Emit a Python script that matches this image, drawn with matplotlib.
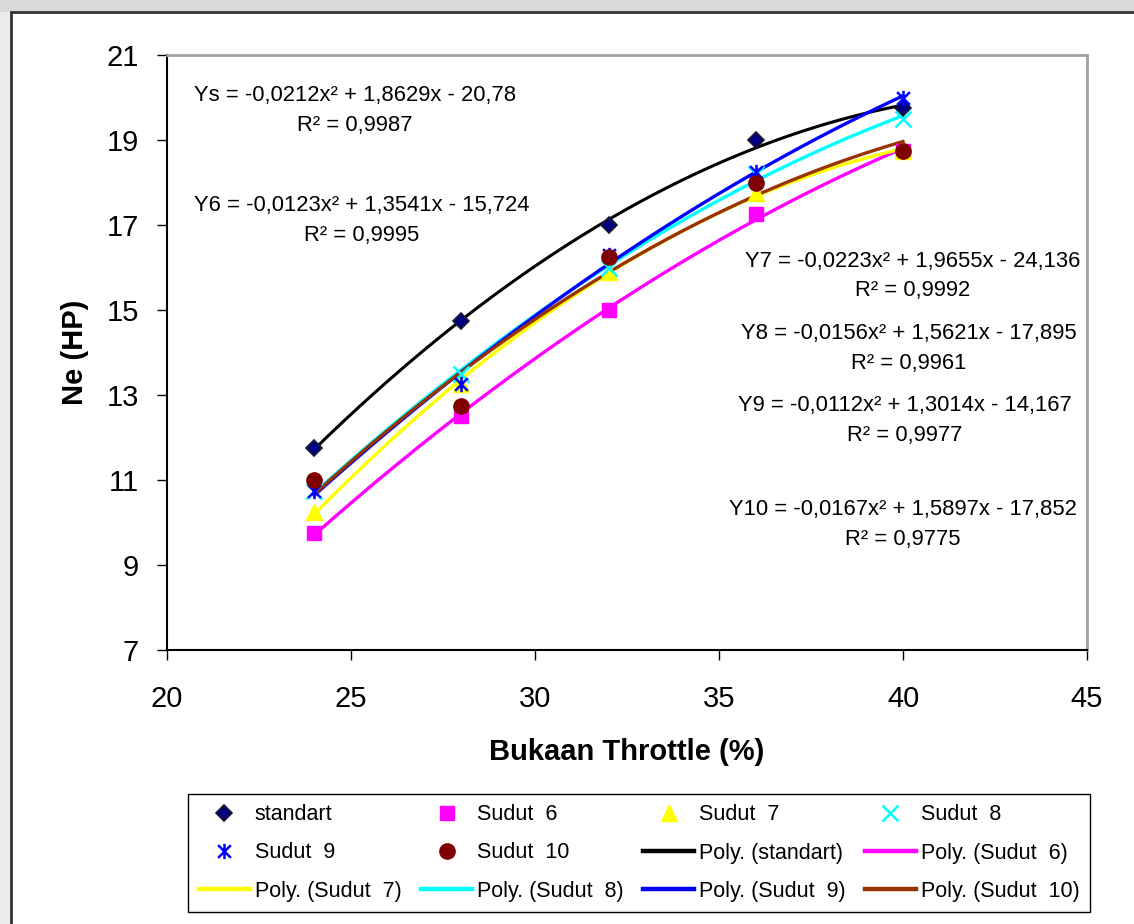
import numpy as np
import matplotlib
matplotlib.use("Agg")
import matplotlib.pyplot as plt
import matplotlib.patches as mpatches
from matplotlib.path import Path

plt.rcParams["font.family"] = ["Liberation Sans", "DejaVu Sans"]

# ── Data ────────────────────────────────────────────────────────────────────
throttle = [24, 28, 32, 36, 40]
standart = [11.75, 14.75, 17.0, 19.0, 19.75]
sudut6 = [9.75, 12.5, 15.0, 17.25, 18.75]
sudut7 = [10.25, 13.25, 15.9, 17.75, 18.75]
sudut8 = [10.75, 13.5, 16.0, 18.2, 19.5]
sudut9 = [10.75, 13.25, 16.3, 18.25, 20.0]
sudut10 = [11.0, 12.75, 16.25, 18.0, 18.75]

names = ["standart", "Sudut  6", "Sudut  7", "Sudut  8", "Sudut  9", "Sudut  10"]
equations = [
    "Ys = -0,0212x² + 1,8629x - 20,78\nR² = 0,9987",
    "Y6 = -0,0123x² + 1,3541x - 15,724\nR² = 0,9995",
    "Y7 = -0,0223x² + 1,9655x - 24,136\nR² = 0,9992",
    "Y8 = -0,0156x² + 1,5621x - 17,895\nR² = 0,9961",
    "Y9 = -0,0112x² + 1,3014x - 14,167\nR² = 0,9977",
    "Y10 = -0,0167x² + 1,5897x - 17,852\nR² = 0,9775",
]
# label centres in data units
eq_x = [25.1, 25.3, 40.25, 40.15, 40.05, 40.0]
eq_y = [19.7, 17.1, 15.8, 14.1, 12.4, 9.95]

# Excel style asterisk: X with vertical stroke
star = Path([(-1, -1), (1, 1), (-1, 1), (1, -1), (0, -1.2), (0, 1.2)],
            [Path.MOVETO, Path.LINETO, Path.MOVETO, Path.LINETO, Path.MOVETO, Path.LINETO])

series = [standart, sudut6, sudut7, sudut8, sudut9, sudut10]
line_colors = ["#000000", "#ff00ff", "#ffff00", "#00ffff", "#0000ff", "#993300"]
mk = [
    dict(marker="D", ms=8.5, mfc="#000080", mec="#1a1a2e", mew=1.2),
    dict(marker="s", ms=10, mfc="#ff00ff", mec="#ff00ff", mew=1),
    dict(marker="^", ms=11, mfc="#ffff00", mec="#ffff00", mew=1),
    dict(marker="x", ms=11, mfc="none", mec="#00ffff", mew=1.8),
    dict(marker=star, ms=11, mfc="none", mec="#0000ff", mew=1.8),
    dict(marker="o", ms=11, mfc="#800000", mec="#800000", mew=1),
]

fig = plt.figure(figsize=(11.34, 9.24), dpi=100)
fig.patch.set_facecolor("#ebebeb")
fig.patches.append(mpatches.Rectangle((0, 1 - 12 / 924), 1, 12 / 924, transform=fig.transFigure,
                                      facecolor="#d9d9d9", edgecolor="none", zorder=-20))
fig.patches.append(mpatches.Rectangle((11 / 1134, -0.01), 1.1, 1.01 - 12 / 924, transform=fig.transFigure,
                                      facecolor="white", edgecolor="#333333", linewidth=2, zorder=-10))

ax = fig.add_axes([167 / 1134, 1 - 650 / 924, 920 / 1134, 595 / 924])
ax.set_facecolor("none")
ax.set_xlim(20, 45)
ax.set_ylim(7, 21)
ax.set_xticks(range(20, 46, 5))
ax.set_yticks(range(7, 22, 2))

xs = np.linspace(24, 40, 200)
point_handles = []
line_handles = []
for i, ys in enumerate(series):
    coef = np.polyfit(throttle, ys, 2)
    lw = 2.2 if i == 0 else 2.4
    ln, = ax.plot(xs, np.polyval(coef, xs), color=line_colors[i], lw=lw, zorder=3 + i * 0.1)
    line_handles.append(ln)
for i, ys in enumerate(series):
    pt, = ax.plot(throttle, ys, ls="none", zorder=5, **mk[i])
    point_handles.append(pt)

for txt, x, y in zip(equations, eq_x, eq_y):
    ax.text(x, y, txt, ha="center", va="center", fontsize=15.8, linespacing=1.55, zorder=6)

ax.spines["left"].set_color("black")
ax.spines["bottom"].set_color("black")
ax.spines["left"].set_linewidth(1.5)
ax.spines["bottom"].set_linewidth(1.5)
ax.spines["top"].set_color("#a0a0a0")
ax.spines["right"].set_color("#a0a0a0")
ax.spines["top"].set_linewidth(2)
ax.spines["right"].set_linewidth(2)
ax.tick_params(axis="both", direction="out", length=7, width=1, labelsize=21)
ax.tick_params(axis="x", pad=18)
ax.tick_params(axis="y", pad=13)

ax.set_xlabel("Bukaan Throttle (%)", fontsize=21, fontweight="bold", labelpad=18)
ax.set_ylabel("Ne (HP)", fontsize=21, fontweight="bold", labelpad=13)

# legend, row-major order reshuffled for matplotlib's column filling
labels_pts = names
labels_lines = ["Poly. (%s)" % n for n in names]
all_h = point_handles + line_handles
all_l = labels_pts + labels_lines
ncol = 4
nrow = 3
order = [r * ncol + c for c in range(ncol) for r in range(nrow)]
leg = ax.legend([all_h[k] for k in order], [all_l[k] for k in order], ncol=ncol,
                loc="center", bbox_to_anchor=(639 / 1134, 1 - 853 / 924), bbox_transform=fig.transFigure,
                fontsize=15.5, frameon=True, fancybox=False, edgecolor="black", framealpha=1,
                handlelength=2.4, handletextpad=0.2, columnspacing=0.9, labelspacing=0.8,
                borderpad=0.5, borderaxespad=0)
leg.get_frame().set_linewidth(1)
for h in leg.legend_handles:
    h.set_linewidth(3.2) if h.get_linestyle() != "None" else None

fig.savefig("out.png", dpi=100, facecolor=fig.get_facecolor())
